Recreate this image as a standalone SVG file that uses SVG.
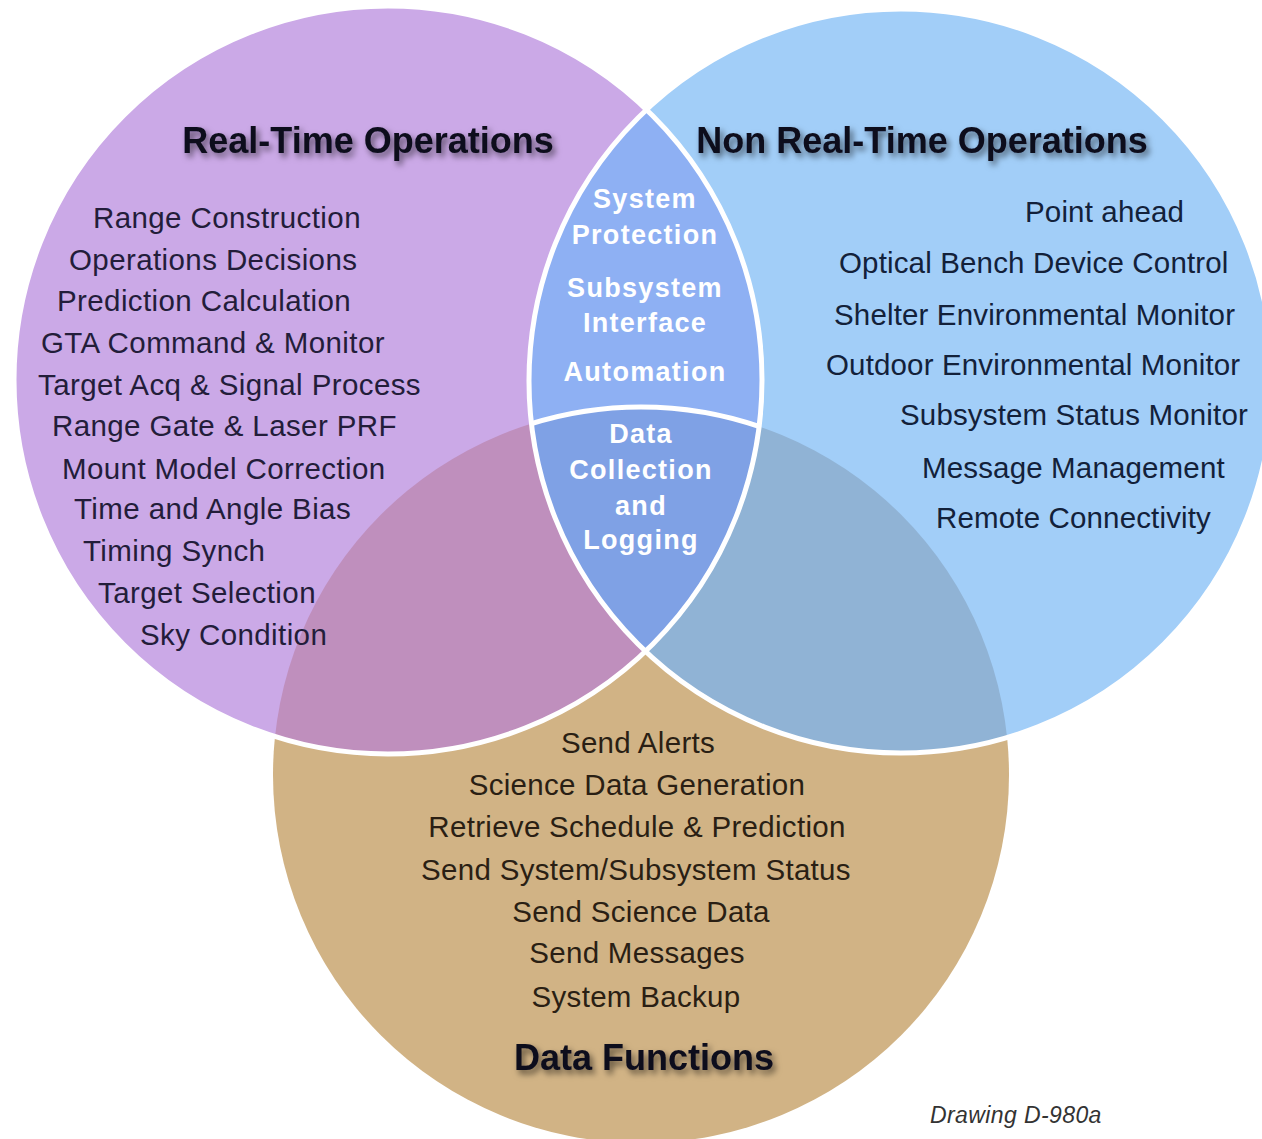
<svg xmlns="http://www.w3.org/2000/svg" width="1262" height="1139" viewBox="0 0 1262 1139">
<defs>
<clipPath id="clipL"><circle cx="388" cy="380" r="374"/></clipPath>
<clipPath id="clipR"><circle cx="901" cy="381" r="372"/></clipPath>
<clipPath id="clipB"><circle cx="641" cy="775" r="368"/></clipPath>
<filter id="shadow" x="-10%" y="-40%" width="120%" height="180%">
<feDropShadow dx="3" dy="4" stdDeviation="3" flood-color="#000" flood-opacity="0.55"/>
</filter>
<style>
text{font-family:"Liberation Sans",Arial,sans-serif;}
.title{font-size:36px;font-weight:bold;fill:#0d0d1e;text-anchor:middle;filter:url(#shadow);}
.lt{font-size:29.5px;fill:#231d3a;letter-spacing:0.4px;}
.rt{font-size:29.5px;fill:#13213a;letter-spacing:0.15px;}
.bt{font-size:29.5px;fill:#2a1f14;text-anchor:middle;letter-spacing:0.3px;}
.wt{font-size:27px;font-weight:bold;fill:#ffffff;text-anchor:middle;letter-spacing:1.3px;}
.note{font-size:23px;font-style:italic;fill:#333;letter-spacing:0.4px;}
</style>
</defs>
<rect width="1262" height="1139" fill="#ffffff"/>
<g id="circles">
<circle id="bottom-fill" cx="641" cy="775" r="368" fill="#d1b385"/>
<circle id="left-fill" cx="388" cy="380" r="374" fill="#cba9e7"/>
<circle id="right-fill" cx="901" cy="381" r="372" fill="#a2cef8"/>
<circle cx="388" cy="380" r="374" fill="#bf8fbd" clip-path="url(#clipB)"/>
<circle cx="901" cy="381" r="372" fill="#90b3d5" clip-path="url(#clipB)"/>
<g clip-path="url(#clipL)"><circle cx="901" cy="381" r="372" fill="#8eb0f3"/></g>
<g clip-path="url(#clipL)"><circle cx="901" cy="381" r="372" fill="#7fa1e5" clip-path="url(#clipB)"/></g>
</g>
<g id="connectors" fill="none" stroke="#ffffff" stroke-width="5">
<circle cx="388" cy="380" r="374"/>
<circle cx="901" cy="381" r="372"/>
<g clip-path="url(#clipL)"><circle cx="641" cy="775" r="368" clip-path="url(#clipR)"/></g>
</g>
<g id="real-time">
<text class="title" x="368" y="153">Real-Time Operations</text>
<text class="lt" x="93" y="228">Range Construction</text>
<text class="lt" x="69" y="270">Operations Decisions</text>
<text class="lt" x="57" y="311">Prediction Calculation</text>
<text class="lt" x="41" y="353">GTA Command &amp; Monitor</text>
<text class="lt" x="38" y="395">Target Acq &amp; Signal Process</text>
<text class="lt" x="52" y="436">Range Gate &amp; Laser PRF</text>
<text class="lt" x="62" y="479">Mount Model Correction</text>
<text class="lt" x="74" y="519">Time and Angle Bias</text>
<text class="lt" x="83" y="561">Timing Synch</text>
<text class="lt" x="98" y="603">Target Selection</text>
<text class="lt" x="140" y="645">Sky Condition</text>
</g>
<g id="non-real-time">
<text class="title" x="922" y="153">Non Real-Time Operations</text>
<text class="rt" x="1025" y="222">Point ahead</text>
<text class="rt" x="839" y="273">Optical Bench Device Control</text>
<text class="rt" x="834" y="325">Shelter Environmental Monitor</text>
<text class="rt" x="826" y="375">Outdoor Environmental Monitor</text>
<text class="rt" x="900" y="425">Subsystem Status Monitor</text>
<text class="rt" x="922" y="478">Message Management</text>
<text class="rt" x="936" y="528">Remote Connectivity</text>
</g>
<g id="shared-rt-nrt">
<text class="wt" x="645" y="208">System</text>
<text class="wt" x="645" y="244">Protection</text>
<text class="wt" x="645" y="297">Subsystem</text>
<text class="wt" x="645" y="332">Interface</text>
<text class="wt" x="645" y="381">Automation</text>
</g>
<g id="shared-all">
<text class="wt" x="641" y="443">Data</text>
<text class="wt" x="641" y="479">Collection</text>
<text class="wt" x="641" y="515">and</text>
<text class="wt" x="641" y="549">Logging</text>
</g>
<g id="data-functions">
<text class="bt" x="638" y="753">Send Alerts</text>
<text class="bt" x="637" y="795">Science Data Generation</text>
<text class="bt" x="637" y="837">Retrieve Schedule &amp; Prediction</text>
<text class="bt" x="636" y="880">Send System/Subsystem Status</text>
<text class="bt" x="641" y="922">Send Science Data</text>
<text class="bt" x="637" y="963">Send Messages</text>
<text class="bt" x="636" y="1007">System Backup</text>
<text class="title" x="644" y="1070">Data Functions</text>
</g>
<text class="note" x="930" y="1123">Drawing D-980a</text>
</svg>
